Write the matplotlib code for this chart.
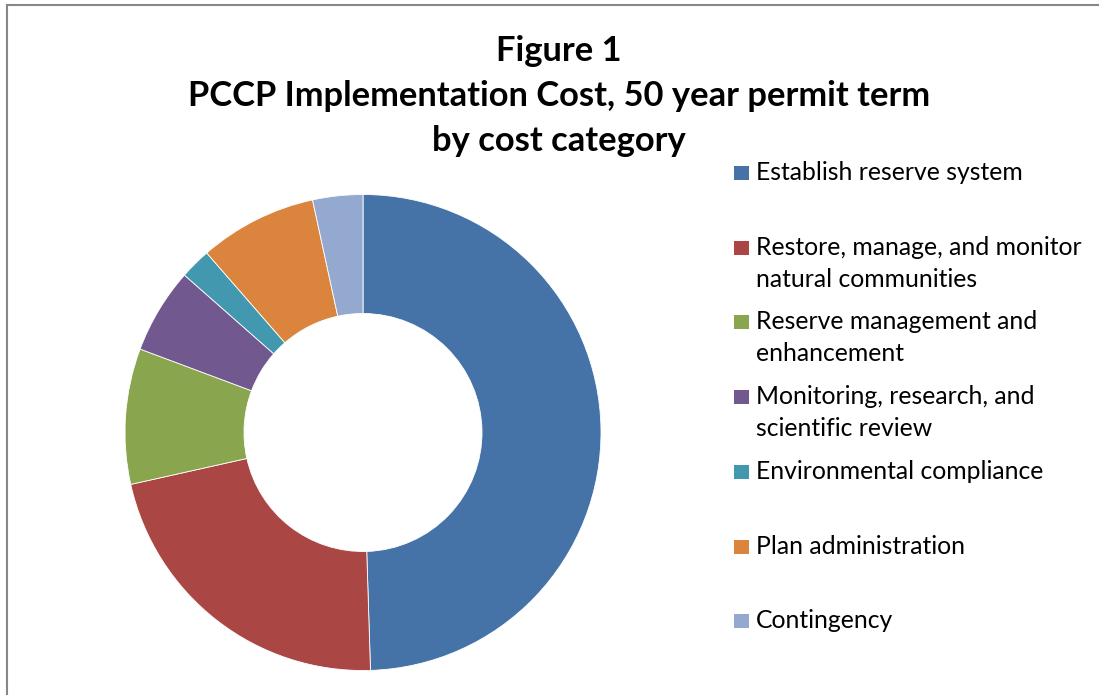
import matplotlib.pyplot as plt
from matplotlib.patches import Rectangle
from matplotlib.lines import Line2D

# Cost shares by category (percent of total implementation cost)
categories = [
    'Establish reserve system',
    'Restore, manage, and monitor\nnatural communities',
    'Reserve management and\nenhancement',
    'Monitoring, research, and\nscientific review',
    'Environmental compliance',
    'Plan administration',
    'Contingency',
]
shares = [49.5, 22.0, 9.2, 5.8, 2.1, 8.0, 3.4]
colors = ['#4572A7', '#AA4643', '#89A54E', '#71588F', '#4198AF', '#DB843D', '#93A9CF']

title_lines = ['Figure 1', 'PCCP Implementation Cost, 50 year permit term', 'by cost category']

W, H = 1099, 695
fig = plt.figure(figsize=(W / 100, H / 100), dpi=100, facecolor='white')

# donut: centre (363, 432) px, outer radius 238 px
cx, cy, r = 363, 432.5, 238
ax = fig.add_axes([(cx - r) / W, 1 - (cy + r) / H, 2 * r / W, 2 * r / H])
ax.pie(shares, colors=colors, startangle=90, counterclock=False, radius=1,
       wedgeprops=dict(width=0.5, edgecolor='white', linewidth=0.6))
ax.set_xlim(-1, 1)
ax.set_ylim(-1, 1)
ax.set_aspect('equal')
ax.axis('off')

# title, one line at a time
for i, line in enumerate(title_lines):
    fig.text(559 / W, 1 - (61 + i * 45) / H, line, ha='center', va='baseline',
             fontsize=24.8, fontweight='bold', family='Lato', color='black')

# legend: first line of each entry sits on an evenly spaced slot
for i, (label, col) in enumerate(zip(categories, colors)):
    base = 180 + i * 74.7
    fig.add_artist(Rectangle((734 / W, 1 - base / H), 15 / W, 14 / H,
                             transform=fig.transFigure, facecolor=col, edgecolor='none'))
    for j, part in enumerate(label.split('\n')):
        fig.text(756 / W, 1 - (base + j * 32) / H, part, ha='left', va='baseline',
                 fontsize=17.8, family='Lato', color='black')

# chart frame (left and top edges)
fig.add_artist(Line2D([7 / W, 7 / W], [0, 1 - 5 / H], transform=fig.transFigure,
                      color='#878787', linewidth=1.5))
fig.add_artist(Line2D([7 / W, 1], [1 - 5 / H, 1 - 5 / H], transform=fig.transFigure,
                      color='#878787', linewidth=1.5))

fig.savefig('out.png', dpi=100, facecolor='white')
